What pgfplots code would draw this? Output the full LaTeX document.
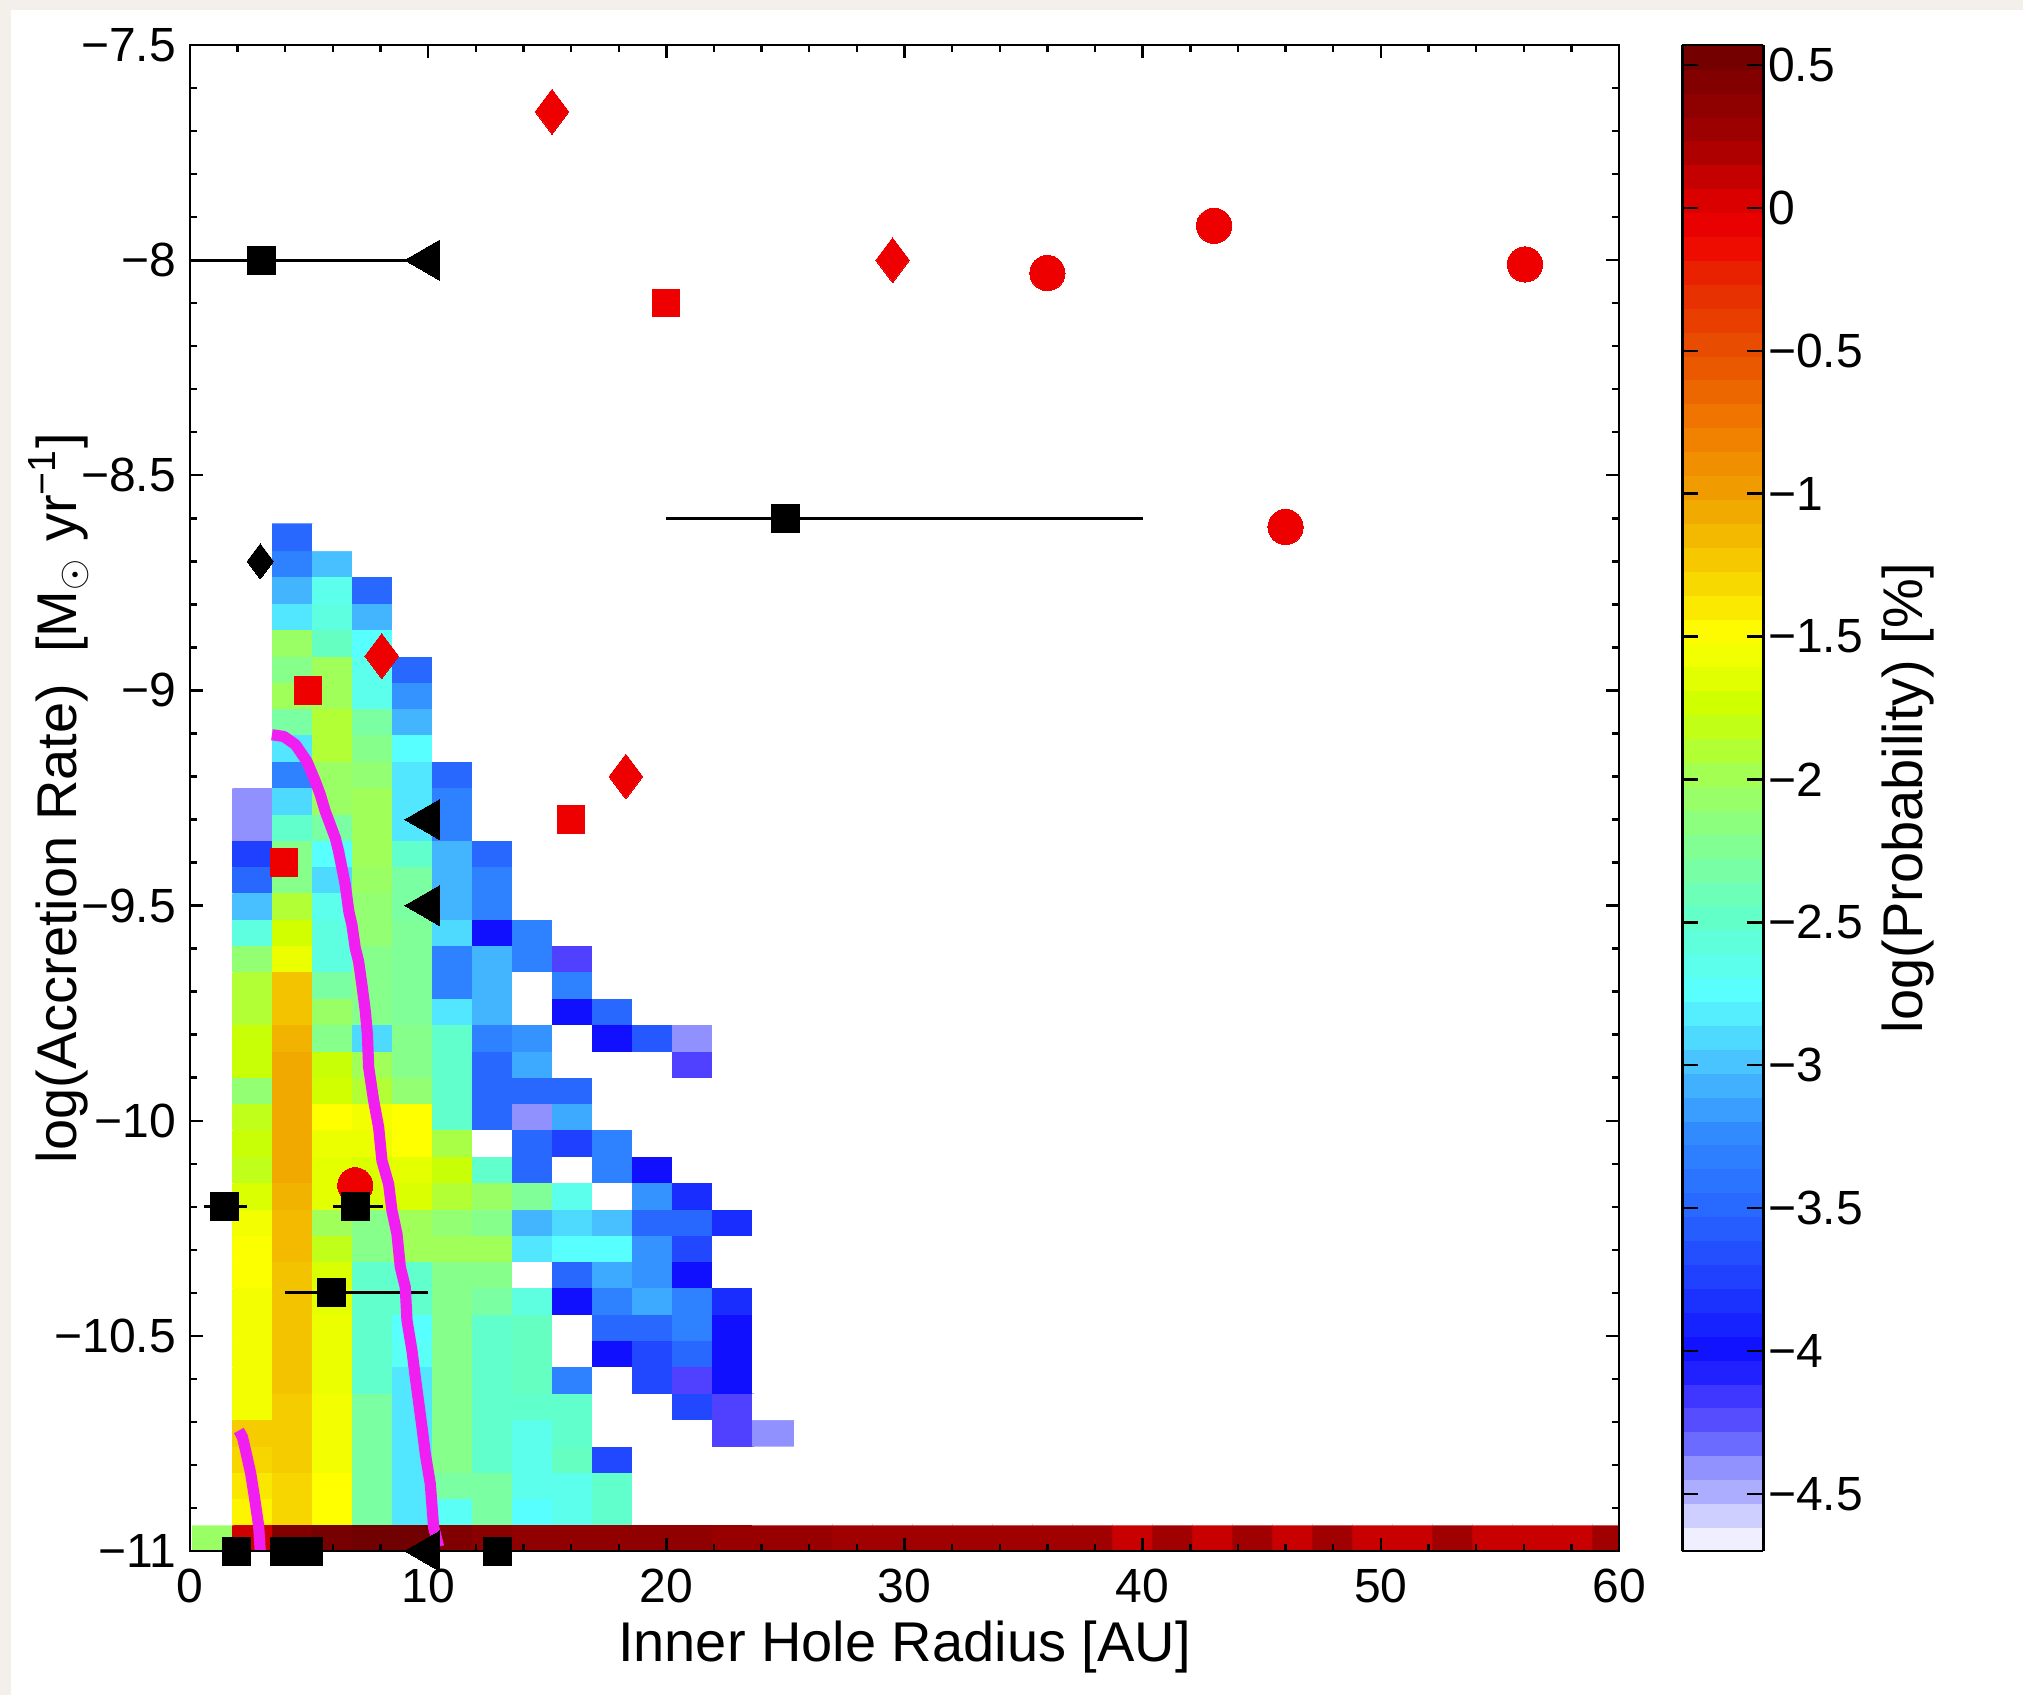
\documentclass[border=0pt]{standalone}
\usepackage{pgfplots}
\pgfplotsset{compat=1.18}
\usepackage{fontspec}
\setmainfont{Liberation Sans}
\setsansfont{Liberation Sans}
\definecolor{rd}{RGB}{238,0,0}
\definecolor{mag}{RGB}{240,30,240}
\definecolor{beige}{RGB}{243,240,235}
\pgfplotsset{
 colormap={disk}{
  rgb255(0pt)=(255,255,255)
  rgb255(10pt)=(216,216,255)
  rgb255(20pt)=(176,176,255)
  rgb255(30pt)=(144,144,255)
  rgb255(40pt)=(96,96,255)
  rgb255(50pt)=(80,64,255)
  rgb255(60pt)=(40,40,255)
  rgb255(70pt)=(16,16,255)
  rgb255(95pt)=(32,64,255)
  rgb255(120pt)=(40,104,255)
  rgb255(145pt)=(48,136,255)
  rgb255(170pt)=(72,192,255)
  rgb255(195pt)=(88,255,255)
  rgb255(220pt)=(96,255,204)
  rgb255(245pt)=(128,255,152)
  rgb255(270pt)=(160,255,88)
  rgb255(295pt)=(204,255,0)
  rgb255(320pt)=(255,255,0)
  rgb255(345pt)=(245,204,0)
  rgb255(370pt)=(240,160,0)
  rgb255(395pt)=(240,120,0)
  rgb255(420pt)=(232,80,0)
  rgb255(445pt)=(232,40,0)
  rgb255(460pt)=(240,0,0)
  rgb255(470pt)=(224,0,0)
  rgb255(480pt)=(200,0,0)
  rgb255(495pt)=(160,0,0)
  rgb255(520pt)=(122,0,0)
  rgb255(527pt)=(110,0,0)
 }
}
\begin{document}
\begin{tikzpicture}
\fill[white] (-47.5pt,-36pt) rectangle (458.25pt,387.75pt);
\fill[beige] (-47.5pt,385.25pt) rectangle (458.25pt,387.75pt);
\fill[beige] (-47.5pt,-36pt) rectangle (-44.75pt,387.75pt);
\begin{axis}[
  at={(0pt,0pt)}, anchor=south west,
  scale only axis, width=357.25pt, height=376.5pt,
  xmin=0, xmax=60, ymin=-11, ymax=-7.5,
  axis on top,
  xtick={0,10,20,30,40,50,60},
  xticklabels={0,10,20,30,40,50,60},
  ytick={-11,-10.5,-10,-9.5,-9,-8.5,-8,-7.5},
  yticklabels={−11,−10.5,−10,−9.5,−9,−8.5,−8,−7.5},
  minor x tick num=4, minor y tick num=4,
  tick align=inside, xtick pos=both, ytick pos=both,
  xticklabel pos=lower, yticklabel pos=left,
  major tick length=3.2pt, minor tick length=1.8pt,
  every tick/.style={black, line width=0.6pt},
  axis line style={line width=0.7pt},
  tick label style={font=\fontsize{12}{14}\selectfont},
  xticklabel style={yshift=-1pt},
  label style={font=\fontsize{14}{16}\selectfont},
  xlabel={Inner Hole Radius [AU]},
  ylabel={log(Accretion Rate)\ \ [M$_\odot$ yr\textsuperscript{−1}]},
  xlabel style={at={(axis description cs:0.5,-0.064)}, anchor=center},
  ylabel style={at={(axis description cs:-0.092,0.5)}, anchor=center},
  colormap name=disk,
  point meta min=-4.7, point meta max=0.57,
  colorbar sampled,
  colorbar style={
    samples=64,
    at={(parent axis.north east)}, anchor=north west, xshift=7.3pt,
    scale only axis, width=20.25pt, height=376.5pt,
    ytick={-4.5,-4,-3.5,-3,-2.5,-2,-1.5,-1,-0.5,0,0.5},
    yticklabels={−4.5,−4,−3.5,−3,−2.5,−2,−1.5,−1,−0.5,0,0.5},
    tick align=inside, ytick pos=both, yticklabel pos=right,
    major tick length=4pt,
    every tick/.style={black, line width=0.6pt},
    axis line style={line width=0.7pt},
    yticklabel style={font=\fontsize{12}{14}\selectfont, inner sep=1pt},
    ylabel={log(Probability) [\%]},
    ylabel style={font=\fontsize{14}{16}\selectfont, at={(axis description cs:2.79,0.5)}, anchor=center},
  },
]
% ---- probability map, 15 columns x 39 rows (-4.7 = empty / white)
\addplot[matrix plot*, mesh/cols=15, mesh/rows=39, point meta=explicit]
 table[meta=c, row sep=\\] {
x y c\\
0.96 -10.969 -2.05\\ 2.64 -10.969 0.07\\ 4.32 -10.969 0.46\\ 6.00 -10.969 0.52\\ 7.68 -10.969 0.55\\ 9.36 -10.969 0.55\\ 11.04 -10.969 0.46\\ 12.72 -10.969 0.40\\ 14.40 -10.969 0.35\\ 16.08 -10.969 0.35\\ 17.76 -10.969 0.35\\ 19.44 -10.969 0.35\\ 21.12 -10.969 0.35\\ 22.80 -10.969 0.30\\ 24.48 -10.969 0.30\\
0.96 -10.908 -4.7\\ 2.64 -10.908 -1.45\\ 4.32 -10.908 -1.3\\ 6.00 -10.908 -1.5\\ 7.68 -10.908 -2.3\\ 9.36 -10.908 -2.85\\ 11.04 -10.908 -2.7\\ 12.72 -10.908 -2.3\\ 14.40 -10.908 -2.75\\ 16.08 -10.908 -2.65\\ 17.76 -10.908 -2.5\\ 19.44 -10.908 -4.7\\ 21.12 -10.908 -4.7\\ 22.80 -10.908 -4.7\\ 24.48 -10.908 -4.7\\
0.96 -10.847 -4.7\\ 2.64 -10.847 -1.38\\ 4.32 -10.847 -1.3\\ 6.00 -10.847 -1.5\\ 7.68 -10.847 -2.3\\ 9.36 -10.847 -2.85\\ 11.04 -10.847 -2.3\\ 12.72 -10.847 -2.3\\ 14.40 -10.847 -2.65\\ 16.08 -10.847 -2.65\\ 17.76 -10.847 -2.5\\ 19.44 -10.847 -4.7\\ 21.12 -10.847 -4.7\\ 22.80 -10.847 -4.7\\ 24.48 -10.847 -4.7\\
0.96 -10.786 -4.7\\ 2.64 -10.786 -1.3\\ 4.32 -10.786 -1.25\\ 6.00 -10.786 -1.56\\ 7.68 -10.786 -2.3\\ 9.36 -10.786 -2.85\\ 11.04 -10.786 -2.2\\ 12.72 -10.786 -2.5\\ 14.40 -10.786 -2.65\\ 16.08 -10.786 -2.45\\ 17.76 -10.786 -3.7\\ 19.44 -10.786 -4.7\\ 21.12 -10.786 -4.7\\ 22.80 -10.786 -4.7\\ 24.48 -10.786 -4.7\\
0.96 -10.725 -4.7\\ 2.64 -10.725 -1.25\\ 4.32 -10.725 -1.25\\ 6.00 -10.725 -1.56\\ 7.68 -10.725 -2.3\\ 9.36 -10.725 -2.85\\ 11.04 -10.725 -2.2\\ 12.72 -10.725 -2.5\\ 14.40 -10.725 -2.65\\ 16.08 -10.725 -2.5\\ 17.76 -10.725 -4.7\\ 19.44 -10.725 -4.7\\ 21.12 -10.725 -4.7\\ 22.80 -10.725 -4.2\\ 24.48 -10.725 -4.4\\
0.96 -10.663 -4.7\\ 2.64 -10.663 -1.56\\ 4.32 -10.663 -1.25\\ 6.00 -10.663 -1.56\\ 7.68 -10.663 -2.3\\ 9.36 -10.663 -2.85\\ 11.04 -10.663 -2.2\\ 12.72 -10.663 -2.5\\ 14.40 -10.663 -2.5\\ 16.08 -10.663 -2.5\\ 17.76 -10.663 -4.7\\ 19.44 -10.663 -4.7\\ 21.12 -10.663 -3.7\\ 22.80 -10.663 -4.2\\ 24.48 -10.663 -4.7\\
0.96 -10.602 -4.7\\ 2.64 -10.602 -1.56\\ 4.32 -10.602 -1.2\\ 6.00 -10.602 -1.6\\ 7.68 -10.602 -2.5\\ 9.36 -10.602 -2.85\\ 11.04 -10.602 -2.2\\ 12.72 -10.602 -2.5\\ 14.40 -10.602 -2.45\\ 16.08 -10.602 -3.3\\ 17.76 -10.602 -4.7\\ 19.44 -10.602 -3.7\\ 21.12 -10.602 -4.2\\ 22.80 -10.602 -4.0\\ 24.48 -10.602 -4.7\\
0.96 -10.541 -4.7\\ 2.64 -10.541 -1.56\\ 4.32 -10.541 -1.2\\ 6.00 -10.541 -1.6\\ 7.68 -10.541 -2.5\\ 9.36 -10.541 -2.7\\ 11.04 -10.541 -2.2\\ 12.72 -10.541 -2.5\\ 14.40 -10.541 -2.45\\ 16.08 -10.541 -4.7\\ 17.76 -10.541 -4.0\\ 19.44 -10.541 -3.7\\ 21.12 -10.541 -3.5\\ 22.80 -10.541 -4.0\\ 24.48 -10.541 -4.7\\
0.96 -10.480 -4.7\\ 2.64 -10.480 -1.56\\ 4.32 -10.480 -1.2\\ 6.00 -10.480 -1.6\\ 7.68 -10.480 -2.5\\ 9.36 -10.480 -2.75\\ 11.04 -10.480 -2.2\\ 12.72 -10.480 -2.5\\ 14.40 -10.480 -2.45\\ 16.08 -10.480 -4.7\\ 17.76 -10.480 -3.5\\ 19.44 -10.480 -3.5\\ 21.12 -10.480 -3.3\\ 22.80 -10.480 -4.0\\ 24.48 -10.480 -4.7\\
0.96 -10.419 -4.7\\ 2.64 -10.419 -1.56\\ 4.32 -10.419 -1.2\\ 6.00 -10.419 -1.63\\ 7.68 -10.419 -2.5\\ 9.36 -10.419 -2.5\\ 11.04 -10.419 -2.2\\ 12.72 -10.419 -2.3\\ 14.40 -10.419 -2.6\\ 16.08 -10.419 -4.0\\ 17.76 -10.419 -3.3\\ 19.44 -10.419 -3.1\\ 21.12 -10.419 -3.3\\ 22.80 -10.419 -3.85\\ 24.48 -10.419 -4.7\\
0.96 -10.357 -4.7\\ 2.64 -10.357 -1.52\\ 4.32 -10.357 -1.2\\ 6.00 -10.357 -1.68\\ 7.68 -10.357 -2.5\\ 9.36 -10.357 -2.5\\ 11.04 -10.357 -2.2\\ 12.72 -10.357 -2.2\\ 14.40 -10.357 -4.7\\ 16.08 -10.357 -3.5\\ 17.76 -10.357 -3.1\\ 19.44 -10.357 -3.2\\ 21.12 -10.357 -4.0\\ 22.80 -10.357 -4.7\\ 24.48 -10.357 -4.7\\
0.96 -10.296 -4.7\\ 2.64 -10.296 -1.52\\ 4.32 -10.296 -1.15\\ 6.00 -10.296 -1.82\\ 7.68 -10.296 -2.2\\ 9.36 -10.296 -2.0\\ 11.04 -10.296 -2.0\\ 12.72 -10.296 -2.0\\ 14.40 -10.296 -2.85\\ 16.08 -10.296 -2.75\\ 17.76 -10.296 -2.75\\ 19.44 -10.296 -3.2\\ 21.12 -10.296 -3.7\\ 22.80 -10.296 -4.7\\ 24.48 -10.296 -4.7\\
0.96 -10.235 -4.7\\ 2.64 -10.235 -1.56\\ 4.32 -10.235 -1.15\\ 6.00 -10.235 -2.0\\ 7.68 -10.235 -2.2\\ 9.36 -10.235 -2.0\\ 11.04 -10.235 -2.1\\ 12.72 -10.235 -2.2\\ 14.40 -10.235 -3.05\\ 16.08 -10.235 -2.9\\ 17.76 -10.235 -3.0\\ 19.44 -10.235 -3.5\\ 21.12 -10.235 -3.5\\ 22.80 -10.235 -3.85\\ 24.48 -10.235 -4.7\\
0.96 -10.174 -4.7\\ 2.64 -10.174 -1.68\\ 4.32 -10.174 -1.1\\ 6.00 -10.174 -1.63\\ 7.68 -10.174 -1.68\\ 9.36 -10.174 -1.68\\ 11.04 -10.174 -1.9\\ 12.72 -10.174 -2.05\\ 14.40 -10.174 -2.25\\ 16.08 -10.174 -2.65\\ 17.76 -10.174 -4.7\\ 19.44 -10.174 -3.2\\ 21.12 -10.174 -3.85\\ 22.80 -10.174 -4.7\\ 24.48 -10.174 -4.7\\
0.96 -10.113 -4.7\\ 2.64 -10.113 -1.82\\ 4.32 -10.113 -1.05\\ 6.00 -10.113 -1.63\\ 7.68 -10.113 -1.68\\ 9.36 -10.113 -1.63\\ 11.04 -10.113 -1.77\\ 12.72 -10.113 -2.5\\ 14.40 -10.113 -3.5\\ 16.08 -10.113 -4.7\\ 17.76 -10.113 -3.3\\ 19.44 -10.113 -4.0\\ 21.12 -10.113 -4.7\\ 22.80 -10.113 -4.7\\ 24.48 -10.113 -4.7\\
0.96 -10.051 -4.7\\ 2.64 -10.051 -1.77\\ 4.32 -10.051 -1.05\\ 6.00 -10.051 -1.6\\ 7.68 -10.051 -1.6\\ 9.36 -10.051 -1.5\\ 11.04 -10.051 -1.95\\ 12.72 -10.051 -4.7\\ 14.40 -10.051 -3.5\\ 16.08 -10.051 -3.75\\ 17.76 -10.051 -3.3\\ 19.44 -10.051 -4.7\\ 21.12 -10.051 -4.7\\ 22.80 -10.051 -4.7\\ 24.48 -10.051 -4.7\\
0.96 -9.990 -4.7\\ 2.64 -9.990 -1.82\\ 4.32 -9.990 -1.05\\ 6.00 -9.990 -1.5\\ 7.68 -9.990 -1.56\\ 9.36 -9.990 -1.5\\ 11.04 -9.990 -2.5\\ 12.72 -9.990 -3.5\\ 14.40 -9.990 -4.4\\ 16.08 -9.990 -3.1\\ 17.76 -9.990 -4.7\\ 19.44 -9.990 -4.7\\ 21.12 -9.990 -4.7\\ 22.80 -9.990 -4.7\\ 24.48 -9.990 -4.7\\
0.96 -9.929 -4.7\\ 2.64 -9.929 -2.1\\ 4.32 -9.929 -1.05\\ 6.00 -9.929 -1.72\\ 7.68 -9.929 -1.9\\ 9.36 -9.929 -2.1\\ 11.04 -9.929 -2.5\\ 12.72 -9.929 -3.5\\ 14.40 -9.929 -3.5\\ 16.08 -9.929 -3.5\\ 17.76 -9.929 -4.7\\ 19.44 -9.929 -4.7\\ 21.12 -9.929 -4.7\\ 22.80 -9.929 -4.7\\ 24.48 -9.929 -4.7\\
0.96 -9.868 -4.7\\ 2.64 -9.868 -1.77\\ 4.32 -9.868 -1.05\\ 6.00 -9.868 -1.77\\ 7.68 -9.868 -2.0\\ 9.36 -9.868 -2.2\\ 11.04 -9.868 -2.5\\ 12.72 -9.868 -3.5\\ 14.40 -9.868 -3.1\\ 16.08 -9.868 -4.7\\ 17.76 -9.868 -4.7\\ 19.44 -9.868 -4.7\\ 21.12 -9.868 -4.2\\ 22.80 -9.868 -4.7\\ 24.48 -9.868 -4.7\\
0.96 -9.807 -4.7\\ 2.64 -9.807 -1.77\\ 4.32 -9.807 -1.1\\ 6.00 -9.807 -2.2\\ 7.68 -9.807 -2.9\\ 9.36 -9.807 -2.2\\ 11.04 -9.807 -2.5\\ 12.72 -9.807 -3.3\\ 14.40 -9.807 -3.2\\ 16.08 -9.807 -4.7\\ 17.76 -9.807 -4.0\\ 19.44 -9.807 -3.6\\ 21.12 -9.807 -4.4\\ 22.80 -9.807 -4.7\\ 24.48 -9.807 -4.7\\
0.96 -9.745 -4.7\\ 2.64 -9.745 -1.9\\ 4.32 -9.745 -1.2\\ 6.00 -9.745 -2.05\\ 7.68 -9.745 -2.2\\ 9.36 -9.745 -2.25\\ 11.04 -9.745 -2.85\\ 12.72 -9.745 -3.05\\ 14.40 -9.745 -4.7\\ 16.08 -9.745 -4.0\\ 17.76 -9.745 -3.5\\ 19.44 -9.745 -4.7\\ 21.12 -9.745 -4.7\\ 22.80 -9.745 -4.7\\ 24.48 -9.745 -4.7\\
0.96 -9.684 -4.7\\ 2.64 -9.684 -1.9\\ 4.32 -9.684 -1.2\\ 6.00 -9.684 -2.3\\ 7.68 -9.684 -2.2\\ 9.36 -9.684 -2.25\\ 11.04 -9.684 -3.3\\ 12.72 -9.684 -3.05\\ 14.40 -9.684 -4.7\\ 16.08 -9.684 -3.3\\ 17.76 -9.684 -4.7\\ 19.44 -9.684 -4.7\\ 21.12 -9.684 -4.7\\ 22.80 -9.684 -4.7\\ 24.48 -9.684 -4.7\\
0.96 -9.623 -4.7\\ 2.64 -9.623 -2.1\\ 4.32 -9.623 -1.6\\ 6.00 -9.623 -2.6\\ 7.68 -9.623 -2.2\\ 9.36 -9.623 -2.25\\ 11.04 -9.623 -3.3\\ 12.72 -9.623 -3.05\\ 14.40 -9.623 -3.3\\ 16.08 -9.623 -4.2\\ 17.76 -9.623 -4.7\\ 19.44 -9.623 -4.7\\ 21.12 -9.623 -4.7\\ 22.80 -9.623 -4.7\\ 24.48 -9.623 -4.7\\
0.96 -9.562 -4.7\\ 2.64 -9.562 -2.6\\ 4.32 -9.562 -1.72\\ 6.00 -9.562 -2.6\\ 7.68 -9.562 -2.1\\ 9.36 -9.562 -2.25\\ 11.04 -9.562 -2.9\\ 12.72 -9.562 -4.0\\ 14.40 -9.562 -3.3\\ 16.08 -9.562 -4.7\\ 17.76 -9.562 -4.7\\ 19.44 -9.562 -4.7\\ 21.12 -9.562 -4.7\\ 22.80 -9.562 -4.7\\ 24.48 -9.562 -4.7\\
0.96 -9.501 -4.7\\ 2.64 -9.501 -3.0\\ 4.32 -9.501 -1.9\\ 6.00 -9.501 -2.65\\ 7.68 -9.501 -2.1\\ 9.36 -9.501 -2.3\\ 11.04 -9.501 -3.05\\ 12.72 -9.501 -3.3\\ 14.40 -9.501 -4.7\\ 16.08 -9.501 -4.7\\ 17.76 -9.501 -4.7\\ 19.44 -9.501 -4.7\\ 21.12 -9.501 -4.7\\ 22.80 -9.501 -4.7\\ 24.48 -9.501 -4.7\\
0.96 -9.439 -4.7\\ 2.64 -9.439 -3.5\\ 4.32 -9.439 -2.2\\ 6.00 -9.439 -2.9\\ 7.68 -9.439 -2.05\\ 9.36 -9.439 -2.3\\ 11.04 -9.439 -3.05\\ 12.72 -9.439 -3.3\\ 14.40 -9.439 -4.7\\ 16.08 -9.439 -4.7\\ 17.76 -9.439 -4.7\\ 19.44 -9.439 -4.7\\ 21.12 -9.439 -4.7\\ 22.80 -9.439 -4.7\\ 24.48 -9.439 -4.7\\
0.96 -9.378 -4.7\\ 2.64 -9.378 -3.75\\ 4.32 -9.378 -2.2\\ 6.00 -9.378 -2.75\\ 7.68 -9.378 -2.0\\ 9.36 -9.378 -2.5\\ 11.04 -9.378 -3.05\\ 12.72 -9.378 -3.5\\ 14.40 -9.378 -4.7\\ 16.08 -9.378 -4.7\\ 17.76 -9.378 -4.7\\ 19.44 -9.378 -4.7\\ 21.12 -9.378 -4.7\\ 22.80 -9.378 -4.7\\ 24.48 -9.378 -4.7\\
0.96 -9.317 -4.7\\ 2.64 -9.317 -4.4\\ 4.32 -9.317 -2.5\\ 6.00 -9.317 -2.3\\ 7.68 -9.317 -2.0\\ 9.36 -9.317 -2.85\\ 11.04 -9.317 -3.3\\ 12.72 -9.317 -4.7\\ 14.40 -9.317 -4.7\\ 16.08 -9.317 -4.7\\ 17.76 -9.317 -4.7\\ 19.44 -9.317 -4.7\\ 21.12 -9.317 -4.7\\ 22.80 -9.317 -4.7\\ 24.48 -9.317 -4.7\\
0.96 -9.256 -4.7\\ 2.64 -9.256 -4.4\\ 4.32 -9.256 -2.9\\ 6.00 -9.256 -2.05\\ 7.68 -9.256 -2.0\\ 9.36 -9.256 -2.85\\ 11.04 -9.256 -3.3\\ 12.72 -9.256 -4.7\\ 14.40 -9.256 -4.7\\ 16.08 -9.256 -4.7\\ 17.76 -9.256 -4.7\\ 19.44 -9.256 -4.7\\ 21.12 -9.256 -4.7\\ 22.80 -9.256 -4.7\\ 24.48 -9.256 -4.7\\
0.96 -9.195 -4.7\\ 2.64 -9.195 -4.7\\ 4.32 -9.195 -3.3\\ 6.00 -9.195 -2.05\\ 7.68 -9.195 -2.1\\ 9.36 -9.195 -2.85\\ 11.04 -9.195 -3.5\\ 12.72 -9.195 -4.7\\ 14.40 -9.195 -4.7\\ 16.08 -9.195 -4.7\\ 17.76 -9.195 -4.7\\ 19.44 -9.195 -4.7\\ 21.12 -9.195 -4.7\\ 22.80 -9.195 -4.7\\ 24.48 -9.195 -4.7\\
0.96 -9.133 -4.7\\ 2.64 -9.133 -4.7\\ 4.32 -9.133 -2.85\\ 6.00 -9.133 -1.9\\ 7.68 -9.133 -2.2\\ 9.36 -9.133 -2.75\\ 11.04 -9.133 -4.7\\ 12.72 -9.133 -4.7\\ 14.40 -9.133 -4.7\\ 16.08 -9.133 -4.7\\ 17.76 -9.133 -4.7\\ 19.44 -9.133 -4.7\\ 21.12 -9.133 -4.7\\ 22.80 -9.133 -4.7\\ 24.48 -9.133 -4.7\\
0.96 -9.072 -4.7\\ 2.64 -9.072 -4.7\\ 4.32 -9.072 -2.3\\ 6.00 -9.072 -1.9\\ 7.68 -9.072 -2.3\\ 9.36 -9.072 -3.05\\ 11.04 -9.072 -4.7\\ 12.72 -9.072 -4.7\\ 14.40 -9.072 -4.7\\ 16.08 -9.072 -4.7\\ 17.76 -9.072 -4.7\\ 19.44 -9.072 -4.7\\ 21.12 -9.072 -4.7\\ 22.80 -9.072 -4.7\\ 24.48 -9.072 -4.7\\
0.96 -9.011 -4.7\\ 2.64 -9.011 -4.7\\ 4.32 -9.011 -2.0\\ 6.00 -9.011 -2.0\\ 7.68 -9.011 -2.65\\ 9.36 -9.011 -3.2\\ 11.04 -9.011 -4.7\\ 12.72 -9.011 -4.7\\ 14.40 -9.011 -4.7\\ 16.08 -9.011 -4.7\\ 17.76 -9.011 -4.7\\ 19.44 -9.011 -4.7\\ 21.12 -9.011 -4.7\\ 22.80 -9.011 -4.7\\ 24.48 -9.011 -4.7\\
0.96 -8.950 -4.7\\ 2.64 -8.950 -4.7\\ 4.32 -8.950 -2.2\\ 6.00 -8.950 -2.0\\ 7.68 -8.950 -2.65\\ 9.36 -8.950 -3.5\\ 11.04 -8.950 -4.7\\ 12.72 -8.950 -4.7\\ 14.40 -8.950 -4.7\\ 16.08 -8.950 -4.7\\ 17.76 -8.950 -4.7\\ 19.44 -8.950 -4.7\\ 21.12 -8.950 -4.7\\ 22.80 -8.950 -4.7\\ 24.48 -8.950 -4.7\\
0.96 -8.889 -4.7\\ 2.64 -8.889 -4.7\\ 4.32 -8.889 -2.05\\ 6.00 -8.889 -2.45\\ 7.68 -8.889 -2.75\\ 9.36 -8.889 -4.7\\ 11.04 -8.889 -4.7\\ 12.72 -8.889 -4.7\\ 14.40 -8.889 -4.7\\ 16.08 -8.889 -4.7\\ 17.76 -8.889 -4.7\\ 19.44 -8.889 -4.7\\ 21.12 -8.889 -4.7\\ 22.80 -8.889 -4.7\\ 24.48 -8.889 -4.7\\
0.96 -8.827 -4.7\\ 2.64 -8.827 -4.7\\ 4.32 -8.827 -2.85\\ 6.00 -8.827 -2.6\\ 7.68 -8.827 -3.05\\ 9.36 -8.827 -4.7\\ 11.04 -8.827 -4.7\\ 12.72 -8.827 -4.7\\ 14.40 -8.827 -4.7\\ 16.08 -8.827 -4.7\\ 17.76 -8.827 -4.7\\ 19.44 -8.827 -4.7\\ 21.12 -8.827 -4.7\\ 22.80 -8.827 -4.7\\ 24.48 -8.827 -4.7\\
0.96 -8.766 -4.7\\ 2.64 -8.766 -4.7\\ 4.32 -8.766 -3.05\\ 6.00 -8.766 -2.65\\ 7.68 -8.766 -3.5\\ 9.36 -8.766 -4.7\\ 11.04 -8.766 -4.7\\ 12.72 -8.766 -4.7\\ 14.40 -8.766 -4.7\\ 16.08 -8.766 -4.7\\ 17.76 -8.766 -4.7\\ 19.44 -8.766 -4.7\\ 21.12 -8.766 -4.7\\ 22.80 -8.766 -4.7\\ 24.48 -8.766 -4.7\\
0.96 -8.705 -4.7\\ 2.64 -8.705 -4.7\\ 4.32 -8.705 -3.3\\ 6.00 -8.705 -3.0\\ 7.68 -8.705 -4.7\\ 9.36 -8.705 -4.7\\ 11.04 -8.705 -4.7\\ 12.72 -8.705 -4.7\\ 14.40 -8.705 -4.7\\ 16.08 -8.705 -4.7\\ 17.76 -8.705 -4.7\\ 19.44 -8.705 -4.7\\ 21.12 -8.705 -4.7\\ 22.80 -8.705 -4.7\\ 24.48 -8.705 -4.7\\
0.96 -8.644 -4.7\\ 2.64 -8.644 -4.7\\ 4.32 -8.644 -3.5\\ 6.00 -8.644 -4.7\\ 7.68 -8.644 -4.7\\ 9.36 -8.644 -4.7\\ 11.04 -8.644 -4.7\\ 12.72 -8.644 -4.7\\ 14.40 -8.644 -4.7\\ 16.08 -8.644 -4.7\\ 17.76 -8.644 -4.7\\ 19.44 -8.644 -4.7\\ 21.12 -8.644 -4.7\\ 22.80 -8.644 -4.7\\ 24.48 -8.644 -4.7\\
};
% ---- bottom row continued to 60 AU
\addplot[matrix plot*, mesh/cols=21, mesh/rows=2, point meta=explicit]
 table[meta=c, row sep=\\] {
x y c\\
26.16 -10.969 0.30\\ 27.84 -10.969 0.25\\ 29.52 -10.969 0.25\\ 31.20 -10.969 0.25\\ 32.88 -10.969 0.25\\ 34.56 -10.969 0.25\\ 36.24 -10.969 0.25\\ 37.92 -10.969 0.25\\ 39.60 -10.969 0.10\\ 41.28 -10.969 0.25\\ 42.96 -10.969 0.10\\ 44.64 -10.969 0.25\\ 46.32 -10.969 0.10\\ 48.00 -10.969 0.25\\ 49.68 -10.969 0.10\\ 51.36 -10.969 0.10\\ 53.04 -10.969 0.25\\ 54.72 -10.969 0.10\\ 56.40 -10.969 0.10\\ 58.08 -10.969 0.10\\ 59.76 -10.969 0.25\\
26.16 -10.908 -4.7\\ 27.84 -10.908 -4.7\\ 29.52 -10.908 -4.7\\ 31.20 -10.908 -4.7\\ 32.88 -10.908 -4.7\\ 34.56 -10.908 -4.7\\ 36.24 -10.908 -4.7\\ 37.92 -10.908 -4.7\\ 39.60 -10.908 -4.7\\ 41.28 -10.908 -4.7\\ 42.96 -10.908 -4.7\\ 44.64 -10.908 -4.7\\ 46.32 -10.908 -4.7\\ 48.00 -10.908 -4.7\\ 49.68 -10.908 -4.7\\ 51.36 -10.908 -4.7\\ 53.04 -10.908 -4.7\\ 54.72 -10.908 -4.7\\ 56.40 -10.908 -4.7\\ 58.08 -10.908 -4.7\\ 59.76 -10.908 -4.7\\
};
% ---- error bars
\addplot[black, line width=0.8pt] coordinates {(0,-8) (10,-8)};
\addplot[black, line width=0.8pt] coordinates {(20,-8.6) (40,-8.6)};
\addplot[black, line width=0.8pt] coordinates {(0.6,-10.2) (2.4,-10.2)};
\addplot[black, line width=0.8pt] coordinates {(6.0,-10.2) (8.1,-10.2)};
\addplot[black, line width=0.8pt] coordinates {(4.0,-10.4) (10.0,-10.4)};
% ---- red points
\addplot[color=rd, only marks, mark=*, mark size=4.4pt, mark options={solid, fill=rd, draw=rd, line width=0pt}]
 coordinates {(36.0,-8.03) (43.0,-7.92) (56.05,-8.01) (46.0,-8.62) (6.94,-10.15)};
\addplot[color=rd, only marks, mark=diamond*, mark size=5.6pt, mark options={solid, fill=rd, draw=rd, line width=0pt}]
 coordinates {(15.2,-7.655) (29.5,-8.0) (8.05,-8.92) (18.3,-9.2)};
\addplot[color=rd, only marks, mark=square*, mark size=3.4pt, mark options={solid, fill=rd, draw=rd, line width=0pt}]
 coordinates {(20.0,-8.1) (4.95,-9.0) (16.0,-9.3) (3.95,-9.4)};
% ---- black points
\addplot[color=black, only marks, mark=square*, mark size=3.5pt, mark options={solid, fill=black, line width=0pt}]
 coordinates {(3.0,-8.0) (25.0,-8.6) (1.46,-10.2) (6.94,-10.2) (5.96,-10.4) (1.96,-11) (3.95,-11) (4.98,-11) (12.93,-11)};
\addplot[color=black, only marks, mark=triangle*, mark size=5.8pt, mark options={solid, fill=black, line width=0pt, rotate=90}]
 coordinates {(10,-8) (10,-9.3) (10,-9.5) (10,-11)};
\addplot[color=black, only marks, mark=diamond*, mark size=4.4pt, mark options={solid, fill=black, line width=0pt}]
 coordinates {(2.95,-8.7)};
% ---- magenta curves
\addplot[mag, line width=2.8pt, no marks, line join=round] coordinates {
 (3.44,-9.103) (3.94,-9.107) (4.43,-9.126) (4.91,-9.165) (5.26,-9.211) (5.47,-9.242) (5.68,-9.281) (5.89,-9.312) (6.10,-9.343) (6.24,-9.374) (6.38,-9.413) (6.52,-9.452) (6.67,-9.514) (6.80,-9.545) (6.94,-9.599) (7.08,-9.630) (7.22,-9.685) (7.36,-9.745) (7.45,-9.80) (7.50,-9.875) (7.71,-9.953) (7.92,-10.015) (8.06,-10.093) (8.34,-10.147) (8.48,-10.209) (8.69,-10.263) (8.83,-10.340) (9.04,-10.387) (9.11,-10.464) (9.32,-10.534) (9.46,-10.596) (9.74,-10.712) (9.88,-10.774) (10.09,-10.844) (10.23,-10.945) (10.44,-10.99)};
\addplot[mag, line width=2.8pt, no marks, line join=round] coordinates {
 (2.05,-10.72) (2.2,-10.735) (2.35,-10.77) (2.55,-10.82) (2.72,-10.88) (2.88,-10.94) (2.95,-11.0)};
\end{axis}
\pgfresetboundingbox
\useasboundingbox (-47.5pt,-36pt) rectangle (458.25pt,387.75pt);
\end{tikzpicture}
\end{document}
